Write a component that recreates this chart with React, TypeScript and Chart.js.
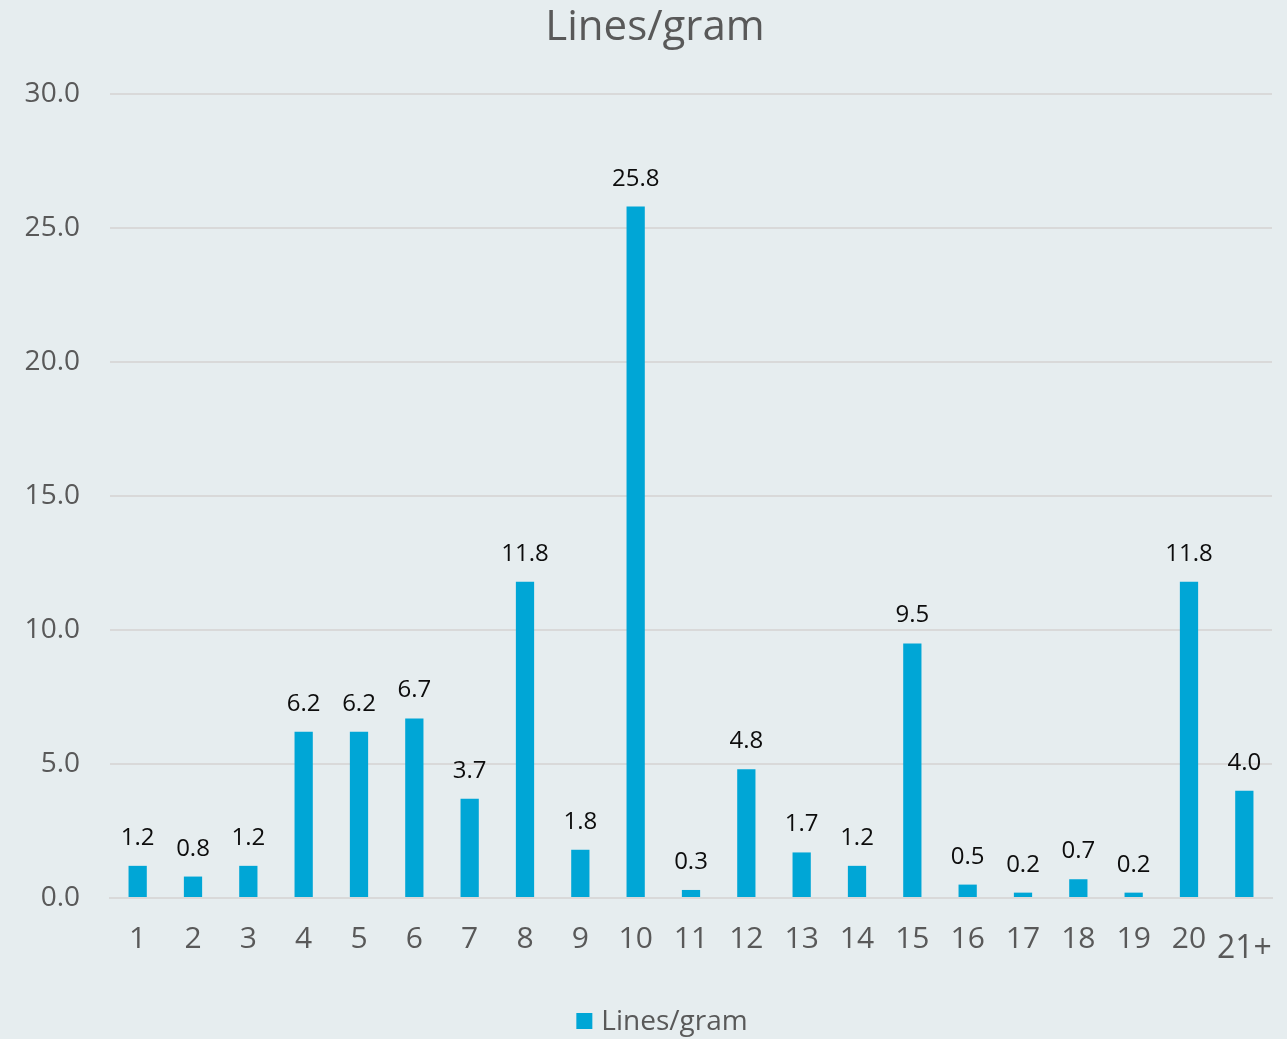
import React, { useEffect, useRef } from "react";
import { Chart, registerables } from "chart.js";

Chart.register(...registerables);

const categories = ["1","2","3","4","5","6","7","8","9","10","11","12","13","14","15","16","17","18","19","20","21+"];
const values = [1.2,0.8,1.2,6.2,6.2,6.7,3.7,11.8,1.8,25.8,0.3,4.8,1.7,1.2,9.5,0.5,0.2,0.7,0.2,11.8,4.0];
const seriesName = "Lines/gram";
const titleText = "Lines/gram";

const BG = "#E6EDEF";
const BAR = "#00A6D6";
const TEXT = "#595959";
const FONT = "'Open Sans', 'DejaVu Sans', sans-serif";

const bgPlugin = {
  id: "bg",
  beforeDraw(chart: any) {
    const { ctx, width, height } = chart;
    ctx.save();
    ctx.fillStyle = BG;
    ctx.fillRect(0, 0, width, height);
    ctx.restore();
  },
};

const shiftTitlePlugin = {
  id: "shiftTitle",
  afterLayout(chart: any) {
    const t = chart.titleBlock;
    if (t) {
      t.left += 19;
      t.right += 19;
    }
  },
};

const labelPlugin = {
  id: "valueLabels",
  afterDatasetsDraw(chart: any) {
    const { ctx } = chart;
    const meta = chart.getDatasetMeta(0);
    ctx.save();
    ctx.font = `24px ${FONT}`;
    ctx.fillStyle = "#0D0D0D";
    ctx.textAlign = "center";
    ctx.textBaseline = "alphabetic";
    meta.data.forEach((el: any, i: number) => {
      ctx.fillText(values[i].toFixed(1), el.x, el.y - 21);
    });
    ctx.restore();
  },
};

const legendPlugin = {
  id: "customLegend",
  afterDraw(chart: any) {
    const { ctx } = chart;
    const ds = chart.data.datasets[0];
    ctx.save();
    ctx.font = `28px ${FONT}`;
    const textW = ctx.measureText(ds.label).width;
    const box = 16;
    const gap = 9;
    const total = box + gap + textW;
    const cx = 662;
    const cy = 1021;
    const x0 = cx - total / 2;
    ctx.fillStyle = ds.backgroundColor;
    ctx.fillRect(x0, cy - box / 2, box, box);
    ctx.fillStyle = TEXT;
    ctx.textAlign = "left";
    ctx.textBaseline = "middle";
    ctx.fillText(ds.label, x0 + box + gap, cy + 1);
    ctx.restore();
  },
};

export default function App() {
  const ref = useRef<HTMLCanvasElement>(null);
  useEffect(() => {
    document.body.style.margin = "0";
    document.body.style.background = BG;
    const chart = new Chart(ref.current!, {
      type: "bar",
      data: {
        labels: categories,
        datasets: [
          {
            label: seriesName,
            data: values,
            backgroundColor: BAR,
            borderWidth: 0,
            barPercentage: 0.33,
            categoryPercentage: 1,
          },
        ],
      },
      options: {
        animation: false,
        responsive: false,
        devicePixelRatio: 1,
        layout: { padding: { left: 0, right: 15, top: 0, bottom: 0 } },
        plugins: {
          title: {
            display: true,
            text: titleText,
            color: TEXT,
            font: { family: FONT, size: 42, weight: "normal" },
            padding: { top: 3, bottom: 40.6 },
          },
          legend: { display: false },
          tooltip: { enabled: false },
        },
        scales: {
          x: {
            afterFit(scale: any) {
              scale.paddingLeft = 0;
              scale.paddingRight = 0;
              scale.height = 141;
            },
            grid: { display: false, drawTicks: false },
            border: { display: true, color: "#D9D9D9", width: 2 },
            ticks: {
              color: TEXT,
              padding: 23,
              maxRotation: 0,
              autoSkip: false,
              font: (c: any) =>
                c.index === 20
                  ? { family: FONT, size: 32, lineHeight: 1.76 }
                  : { family: FONT, size: 30 },
            },
          },
          y: {
            min: 0,
            max: 30,
            afterFit(scale: any) {
              scale.width = 110;
            },
            grid: { color: "#D9D9D9", lineWidth: 2, drawTicks: false },
            border: { display: false },
            ticks: {
              stepSize: 5,
              color: TEXT,
              padding: 30,
              font: { family: FONT, size: 28 },
              callback: (v: any) => Number(v).toFixed(1),
            },
          },
        },
      },
      plugins: [bgPlugin, shiftTitlePlugin, labelPlugin, legendPlugin],
    });
    return () => chart.destroy();
  }, []);
  return <canvas ref={ref} width={1287} height={1039} style={{ display: "block" }} />;
}
